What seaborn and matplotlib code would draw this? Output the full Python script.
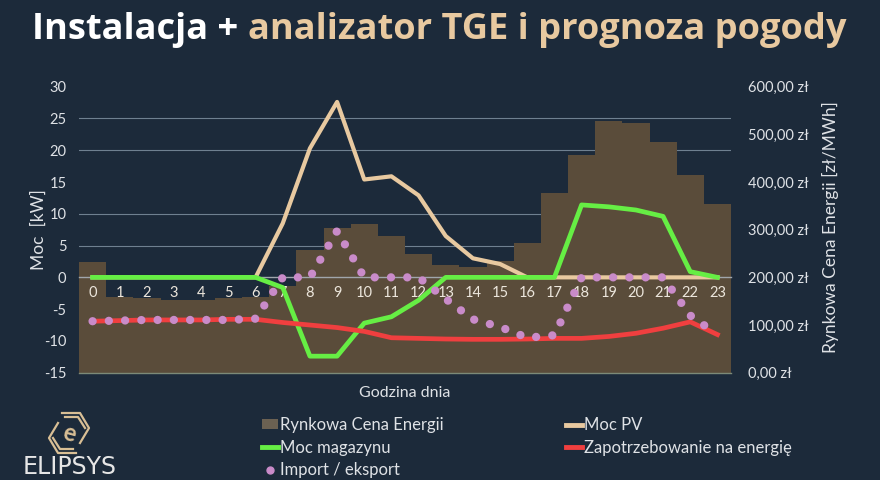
import matplotlib
matplotlib.use("Agg")
import matplotlib.pyplot as plt
import numpy as np
import pandas as pd
import seaborn as sns
from matplotlib.lines import Line2D
from matplotlib.patches import Patch
from matplotlib.ticker import FuncFormatter, FixedLocator

# --- data ------------------------------------------------------------------
HOURS = list(range(24))
# market price, zł/MWh (right axis)
PRICE = [232, 159, 157, 153, 153, 156, 159, 182, 257, 304, 313, 287,
         248, 226, 222, 234, 272, 377, 457, 528, 524, 484, 415, 354]
# PV power, kW
PV = [0, 0, 0, 0, 0, 0, 0, 8.5, 20.3, 27.6, 15.4, 15.9,
      12.9, 6.5, 3.0, 2.1, 0, 0, 0, 0, 0, 0, 0, 0]
# storage power, kW
STORAGE = [0, 0, 0, 0, 0, 0, 0, -1.6, -12.4, -12.4, -7.2, -6.2,
           -3.6, 0, 0, 0, 0, 0, 11.4, 11.1, 10.6, 9.6, 0.9, 0]
# energy demand, kW
DEMAND = [-6.9, -6.8, -6.7, -6.7, -6.7, -6.6, -6.6, -7.1, -7.5, -7.9, -8.5, -9.5,
          -9.6, -9.7, -9.75, -9.75, -9.7, -9.6, -9.6, -9.3, -8.8, -8.0, -7.0, -9.0]
# grid import / export, kW
GRID = [-6.9, -6.8, -6.7, -6.7, -6.7, -6.7, -6.5, 0, 0, 7.3, 0, 0,
        0, -3.4, -6.6, -7.8, -9.5, -9.1, 0, 0, 0, 0, -6.0, -9.0]

LABELS = ["Rynkowa Cena Energii", "Moc PV", "Moc magazynu",
          "Zapotrzebowanie na energię", "Import / eksport"]

BG = "#1c2a3a"
BAR = "#5a4c3a"
PV_C = "#e8c9a0"
GREEN = "#66ee44"
RED = "#f03f3f"
PINK = "#c98bc9"
TXT = "#dfe2e6"
GRIDC = "#6f8090"

plt.rcParams["font.family"] = ["Lato", "DejaVu Sans"]
plt.rcParams["axes.unicode_minus"] = False

df = pd.DataFrame({"hour": HOURS, "price": PRICE, "pv": PV,
                   "storage": STORAGE, "demand": DEMAND, "grid": GRID})

W, H = 880, 480


def fx(x):
    return x / W


def fy(y):
    return 1 - y / H


fig = plt.figure(figsize=(8.8, 4.8), dpi=100, facecolor=BG)
ax = fig.add_axes([fx(79), fy(372.7), fx(731) - fx(79), fy(86.7) - fy(372.7)])
ax2 = ax.twinx()

# price bars on the right axis
sns.barplot(data=df, x="hour", y="price", ax=ax2, color=BAR, saturation=1,
            width=1.0, linewidth=0)
ax2.set_ylim(0, 600)
ax2.yaxis.set_minor_locator(FixedLocator(np.linspace(0, 600, 10)))
ax2.grid(which="minor", axis="y", color=GRIDC, lw=0.8)
ax2.grid(which="major", visible=False)
ax2.set_axisbelow(True)
ax2.set_yticks(np.arange(0, 601, 100))
ax2.yaxis.set_major_formatter(
    FuncFormatter(lambda v, _: f"{v:.2f}".replace(".", ",") + " zł"))
ax2.tick_params(axis="y", which="both", length=0, pad=12,
                labelcolor=TXT, labelsize=10.5)
ax2.set_ylabel("")
ax2.set_xlabel("")
for side in ["top", "left", "right"]:
    ax2.spines[side].set_visible(False)
ax2.spines["bottom"].set_color("#7c8a78")
ax2.spines["bottom"].set_linewidth(1.0)

# power lines on the left axis, drawn above the bars
ax.set_zorder(ax2.get_zorder() + 1)
ax.patch.set_visible(False)
sns.lineplot(data=df, x="hour", y="pv", ax=ax, color=PV_C, lw=3.0,
             legend=False, zorder=3)
sns.lineplot(data=df, x="hour", y="storage", ax=ax, color=GREEN, lw=3.4,
             legend=False, zorder=4)
sns.lineplot(data=df, x="hour", y="demand", ax=ax, color=RED, lw=3.4,
             legend=False, zorder=5)
sns.lineplot(data=df, x="hour", y="grid", ax=ax, color=PINK, lw=6.0,
             linestyle=(0, (0.001, 1.95)), dash_capstyle="round",
             legend=False, zorder=6)

ax.set_ylim(-15, 30)
ax.set_xlim(-0.5, 23.5)
ax.set_yticks(np.arange(-15, 31, 5))
ax.set_xticks(HOURS)
ax.set_xticklabels([str(h) for h in HOURS])
ax.tick_params(axis="y", length=0, pad=9, labelcolor=TXT, labelsize=10.5)
ax.tick_params(axis="x", length=0, pad=6, labelcolor="#ece6dc", labelsize=10.5)
ax.set_xlabel("")
ax.set_ylabel("")
for side in ["top", "left", "right"]:
    ax.spines[side].set_visible(False)
ax.spines["bottom"].set_position(("data", 0))
ax.spines["bottom"].set_color("#a0a6ac")
ax.spines["bottom"].set_linewidth(1.0)
ax.spines["bottom"].set_zorder(2)

# axis titles
fig.text(fx(39), fy(230), "Moc  [kW]", rotation=90, ha="center", va="center",
         color=TXT, fontsize=12.5)
fig.text(fx(830), fy(227), "Rynkowa Cena Energii [zł/MWh]", rotation=90,
         ha="center", va="center", color=TXT, fontsize=12.5)
fig.text(fx(405), fy(393), "Godzina dnia", ha="center", va="center",
         color=TXT, fontsize=11.5)

# legend, two columns filled row by row
handles = [
    Patch(facecolor="#6b6152", edgecolor="none"),
    Line2D([], [], color=PV_C, lw=3.5),
    Line2D([], [], color=GREEN, lw=3.5),
    Line2D([], [], color=RED, lw=3.5),
    Line2D([], [], color=PINK, lw=0, marker="o", markersize=5),
]
leg_kw = dict(loc="upper left", frameon=False, labelcolor=TXT, fontsize=12,
              handlelength=0.95, handleheight=0.5, handletextpad=0.12,
              labelspacing=0.4, borderpad=0, borderaxespad=0)
fig.legend([handles[i] for i in (0, 2, 4)], [LABELS[i] for i in (0, 2, 4)],
           bbox_to_anchor=(fx(262), fy(417)), **leg_kw)
fig.legend([handles[i] for i in (1, 3)], [LABELS[i] for i in (1, 3)],
           bbox_to_anchor=(fx(566), fy(417)), **leg_kw)

# title in two colours, scaled to the reference width
title_kw = dict(fontweight="bold", va="baseline", ha="left",
                family=["Open Sans", "DejaVu Sans"])
fs = 26
t1 = fig.text(fx(32), fy(38.5), "Instalacja + ", color="white", fontsize=fs,
              **title_kw)
t2 = fig.text(fx(32), fy(38.5), "analizator TGE i prognoza pogody",
              color=PV_C, fontsize=fs, **title_kw)
r = fig.canvas.get_renderer()
total = t1.get_window_extent(r).width + t2.get_window_extent(r).width
fs = fs * (848 - 32) / total
t1.set_fontsize(fs)
t2.set_fontsize(fs)
x1 = t1.get_window_extent(r).x1
t2.set_x(x1 / W)

# logo
LOGO = "#d9bf95"
for pts in ([(62, 413), (80, 413), (89, 428), (80, 443)],
            [(58, 423), (49, 438), (58, 453), (76, 453)],
            [(65, 417), (78, 417), (85, 428)],
            [(53, 438), (60, 449), (73, 449)]):
    xs, ys = zip(*[(fx(a), fy(b)) for a, b in pts])
    fig.add_artist(Line2D(xs, ys, color=LOGO, lw=1.6,
                          transform=fig.transFigure))
fig.text(fx(69), fy(433), "e", color=LOGO, fontsize=17, fontweight="bold",
         ha="center", va="center", rotation=-15)
fig.text(fx(70), fy(467), "ELIPSYS", color="#e6e6e6", fontsize=17,
         ha="center", va="center", family=["DejaVu Sans"])

fig.savefig("out.png", dpi=100, facecolor=BG)
